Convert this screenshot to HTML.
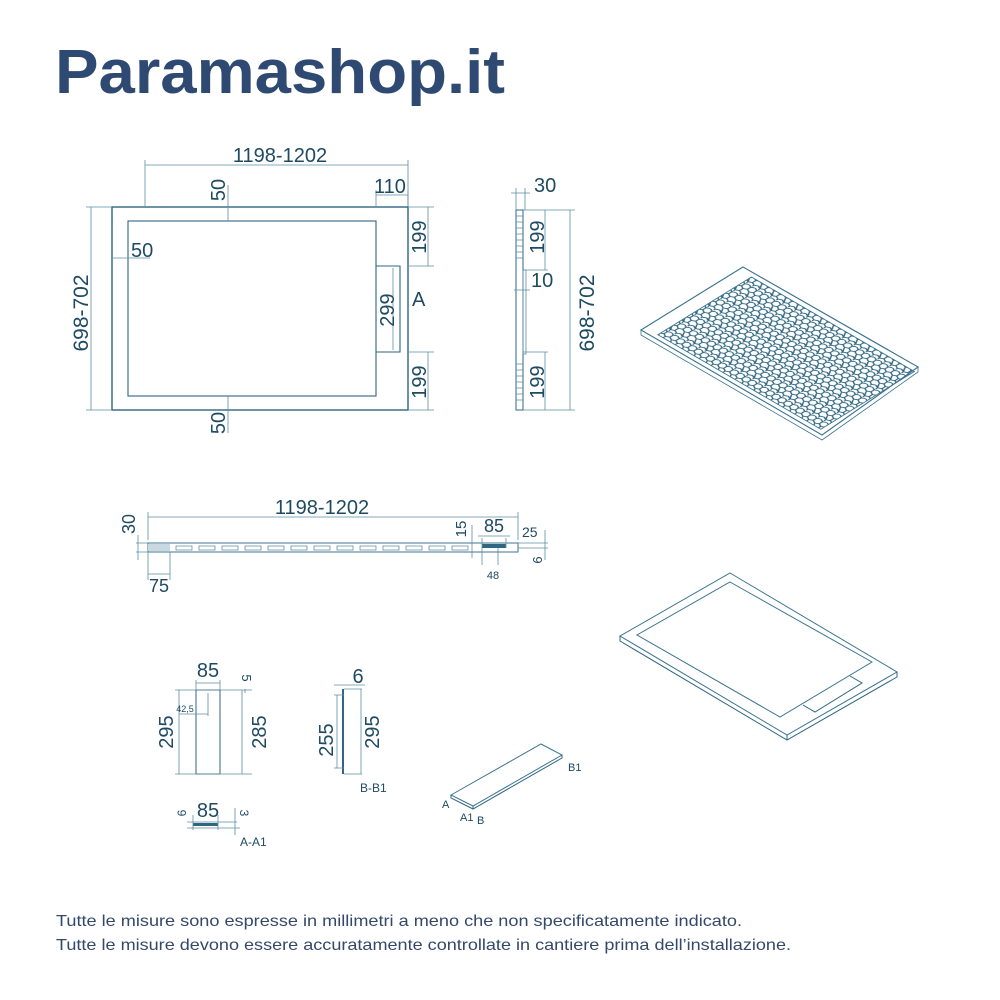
<!DOCTYPE html>
<html><head><meta charset="utf-8"><style>
html,body{margin:0;padding:0;background:#fff;}
svg{display:block;}
.t{font-family:"Liberation Sans",sans-serif;fill:#1e4a62;}
.d{stroke:#5f8ea3;stroke-width:0.8;fill:none;}
.o{stroke:#2f6680;stroke-width:1.4;fill:none;}
</style></head><body>
<svg width="1000" height="1000" viewBox="0 0 1000 1000" xmlns="http://www.w3.org/2000/svg">
<defs>
<pattern id="hex" width="66" height="76" patternUnits="userSpaceOnUse">
<path d="M0,19 L16.5,9.5 L16.5,-9.5 M16.5,9.5 L33,19 L33,38 L16.5,47.5 L0,38 Z M33,19 L49.5,9.5 L66,19 M49.5,9.5 L49.5,-9.5 M33,38 L49.5,47.5 L66,38 M49.5,47.5 L49.5,66.5 L33,76 M49.5,66.5 L66,76 M16.5,47.5 L16.5,66.5 L0,76 M16.5,66.5 L33,76" fill="none" stroke="#2f6680" stroke-width="6"/>
</pattern>
<clipPath id="cl"><rect x="70" y="25" width="900" height="550"/></clipPath>
</defs>
<text x="55" y="93" class="t" style="fill:#2e4a72;font-weight:bold;font-size:62px" textLength="450" lengthAdjust="spacingAndGlyphs">Paramashop.it</text>

<!-- Top plan -->
<rect x="112" y="207" width="296" height="203" class="o"/>
<rect x="128" y="221" width="248" height="175" class="o" style="stroke-width:1.1"/>
<path d="M376,266 H400 V352 H376" class="o" style="stroke-width:1.1"/>
<line x1="393" y1="268" x2="393" y2="350" class="d"/>
<path d="M145,207 V160 M408,207 V160 M145,165 H408" class="d"/>
<text x="280" y="162" class="t" font-size="20" text-anchor="middle">1198-1202</text>
<path d="M376,207 V190 M408,207 V190 M376,195 H408" class="d"/>
<text x="390" y="193" class="t" font-size="20" text-anchor="middle">110</text>
<path d="M228,185 V221 M228,396 V433 M91,207 V410 M86,207 H112 M86,410 H112 M112,258 H150" class="d"/>
<text transform="translate(225,190) rotate(-90)" class="t" font-size="20" text-anchor="middle">50</text>
<text x="131" y="257" class="t" font-size="20">50</text>
<text transform="translate(225,423) rotate(-90)" class="t" font-size="20" text-anchor="middle">50</text>
<text transform="translate(88,313) rotate(-90)" class="t" font-size="21" text-anchor="middle">698-702</text>
<path d="M408,207 H434 M408,266 H434 M408,352 H434 M408,410 H434 M428,207 V266 M428,352 V410" class="d"/>
<text transform="translate(426,237) rotate(-90)" class="t" font-size="20" text-anchor="middle">199</text>
<text transform="translate(426,382) rotate(-90)" class="t" font-size="20" text-anchor="middle">199</text>
<text transform="translate(394,310) rotate(-90)" class="t" font-size="20" text-anchor="middle">299</text>
<text x="412" y="306" class="t" font-size="20">A</text>

<!-- Side view -->
<rect x="516" y="210" width="7" height="200" class="o" style="stroke-width:1"/>
<g stroke="#5f8ea3" stroke-width="0.8">
<path d="M516,216 H523 M516,222 H523 M516,228 H523 M516,234 H523 M516,240 H523 M516,246 H523 M516,252 H523 M516,258 H523 M516,364 H523 M516,370 H523 M516,376 H523 M516,382 H523 M516,388 H523 M516,394 H523 M516,400 H523"/>
</g>
<rect x="523" y="270" width="3" height="84" class="d"/>
<path d="M511,193 H530 M516,188 V210 M525,188 V210" class="d"/>
<text x="534" y="192" class="t" font-size="20">30</text>
<path d="M523,210 H575 M523,270 H548 M523,352 H548 M523,410 H575 M545,210 V270 M545,352 V410 M570,210 V410 M514,290 H530" class="d"/>
<text transform="translate(544,237) rotate(-90)" class="t" font-size="20" text-anchor="middle">199</text>
<text transform="translate(544,382) rotate(-90)" class="t" font-size="20" text-anchor="middle">199</text>
<text x="531" y="287" class="t" font-size="20">10</text>
<text transform="translate(594,313) rotate(-90)" class="t" font-size="21" text-anchor="middle">698-702</text>

<!-- Iso 1 -->
<polygon points="743,267 918,367 822,435 641,330" fill="#fff" stroke="#3c7590" stroke-width="1"/>
<polygon points="641,330 822,435 918,367 918,372 822,440 641,335" fill="#fff" stroke="#3c7590" stroke-width="0.8"/>
<g transform="matrix(0.181,0.105,0.17,-0.105,641,330)">
<rect x="0" y="0" width="1000" height="600" fill="url(#hex)" clip-path="url(#cl)"/>
<rect x="70" y="25" width="900" height="550" fill="none" stroke="#3c7590" stroke-width="5"/>
</g>
<polygon points="743,267 918,367 822,435 641,330" fill="none" stroke="#3c7590" stroke-width="1"/>

<!-- Section view -->
<path d="M148,517 H518 M148,512 V540 M518,512 V540" class="d"/>
<text x="322" y="514" class="t" font-size="20" text-anchor="middle">1198-1202</text>
<rect x="148" y="543" width="370" height="9" fill="#fff" stroke="#3c7590" stroke-width="1"/>
<rect x="148" y="544" width="22" height="7" fill="#c9d9e1"/>
<g fill="none" stroke="#5f8ea3" stroke-width="0.8">
<path d="M176,546 h16 v4 h-16z M199,546 h16 v4 h-16z M222,546 h16 v4 h-16z M245,546 h16 v4 h-16z M268,546 h16 v4 h-16z M291,546 h16 v4 h-16z M314,546 h16 v4 h-16z M337,546 h16 v4 h-16z M360,546 h16 v4 h-16z M383,546 h16 v4 h-16z M406,546 h16 v4 h-16z M429,546 h16 v4 h-16z M452,546 h16 v4 h-16z"/>
</g>
<rect x="482" y="544" width="24" height="4" fill="#2f6680"/>
<path d="M136,543 H148 M136,552 H148 M138,535 V560 M148,552 V580 M170,552 V580 M148,574 H170 M472,525 V558 M482,538 V548 M506,538 V548 M478,536 H510 M482,548 V565 M498,548 V565 M518,543 H548 M518,548 H548 M545,530 V560" class="d"/>
<text transform="translate(135,524) rotate(-90)" class="t" font-size="18" text-anchor="middle">30</text>
<text x="159" y="592" class="t" font-size="18" text-anchor="middle">75</text>
<text transform="translate(466,529) rotate(-90)" class="t" font-size="15" text-anchor="middle">15</text>
<text x="494" y="532" class="t" font-size="18" text-anchor="middle">85</text>
<text x="522" y="537" class="t" font-size="14">25</text>
<text transform="translate(542,560) rotate(-90)" class="t" font-size="13" text-anchor="middle">6</text>
<text x="493" y="579" class="t" font-size="11" text-anchor="middle">48</text>

<!-- Iso 2 -->
<polygon points="730,573 897,672 787,735 620,636" fill="#fff" stroke="#3c7590" stroke-width="1"/>
<path d="M620,636 V641 L787,740 L897,677 V672 M787,735 V740" class="o" style="stroke-width:1"/>
<polygon points="730,582 872,662 780,717 637,635" fill="none" stroke="#3c7590" stroke-width="1"/>
<path d="M850,676 L862,683 L815,712 L803,705" class="o" style="stroke-width:1"/>

<!-- Bottom details -->
<rect x="196" y="690" width="24" height="84" class="o" style="stroke-width:1"/>
<path d="M196,680 V690 M220,680 V690 M196,683 H220 M175,690 H252 M175,774 H252 M179,690 V774 M242,690 V774 M245,689 V693 M208,693 V716 M179,714 H208" class="d"/>
<text x="208" y="677" class="t" font-size="20" text-anchor="middle">85</text>
<text transform="translate(242,678) rotate(90)" class="t" font-size="13" text-anchor="middle">5</text>
<text x="185" y="712" class="t" font-size="9" text-anchor="middle">42,5</text>
<text transform="translate(173,732) rotate(-90)" class="t" font-size="20" text-anchor="middle">295</text>
<text transform="translate(266,732) rotate(-90)" class="t" font-size="20" text-anchor="middle">285</text>

<rect x="342" y="689" width="2" height="85" fill="#2f6680"/>
<path d="M334,685 H365 M344,689 H362 M344,774 H362 M361,689 V774 M334,695 H344 M334,768 H344 M337,695 V768" class="d"/>
<text x="358" y="683" class="t" font-size="20" text-anchor="middle">6</text>
<text transform="translate(333,740) rotate(-90)" class="t" font-size="20" text-anchor="middle">255</text>
<text transform="translate(379,732) rotate(-90)" class="t" font-size="20" text-anchor="middle">295</text>
<text x="360" y="792" class="t" font-size="12">B-B1</text>

<rect x="193" y="823" width="25" height="3" fill="#2f6680"/>
<path d="M187,822 H237 M187,828 H240 M193,815 V830 M218,815 V830 M235,808 V835" class="d"/>
<text x="208" y="817" class="t" font-size="20" text-anchor="middle">85</text>
<text transform="translate(186,813) rotate(-90)" class="t" font-size="12" text-anchor="middle">6</text>
<text transform="translate(240,813) rotate(90)" class="t" font-size="12" text-anchor="middle">3</text>
<text x="240" y="846" class="t" font-size="12">A-A1</text>

<polygon points="451,795 541,744 562,755 473,806" fill="#fff" stroke="#3c7590" stroke-width="1"/>
<path d="M451,795 V798 L473,809 L562,758 V755 M473,806 V809" class="o" style="stroke-width:1"/>
<text x="568" y="771" class="t" font-size="11">B1</text>
<text x="442" y="808" class="t" font-size="11">A</text>
<text x="460" y="821" class="t" font-size="11">A1</text>
<text x="477" y="824" class="t" font-size="11">B</text>

<text x="56" y="926" class="t" style="fill:#34486a" font-size="16" textLength="686" lengthAdjust="spacingAndGlyphs">Tutte le misure sono espresse in millimetri a meno che non specificatamente indicato.</text>
<text x="56" y="950" class="t" style="fill:#34486a" font-size="16" textLength="735" lengthAdjust="spacingAndGlyphs">Tutte le misure devono essere accuratamente controllate in cantiere prima dell’installazione.</text>
</svg>
</body></html>
